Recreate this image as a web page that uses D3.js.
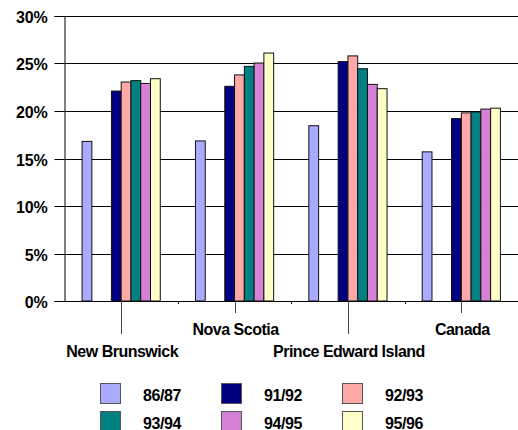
<!DOCTYPE html>
<html>
<head>
<meta charset="utf-8">
<script src="https://cdn.jsdelivr.net/npm/d3@7"></script>
<style>
  html, body { margin: 0; padding: 0; background: #fff; }
  svg { display: block; }
  text { font-family: "Liberation Sans", Arial, sans-serif; font-weight: bold; fill: #000; }
</style>
</head>
<body>
<svg id="chart" width="518" height="430"></svg>
<script>
// Provinces compared, in axis order
const categories = ["New Brunswick", "Nova Scotia", "Prince Edward Island", "Canada"];

// School years shown in the legend
const seriesNames = ["86/87", "91/92", "92/93", "93/94", "94/95", "95/96"];
const seriesColors = ["#AAAAFF", "#000080", "#FFA8A8", "#008080", "#D680D6", "#FFFFC8"];

// Percentages per year, one array per province
const newBrunswick = [16.8, 22.1, 23.05, 23.2, 22.9, 23.4];
const novaScotia   = [16.85, 22.6, 23.8, 24.7, 25.05, 26.1];
const princeEdward = [18.45, 25.2, 25.8, 24.45, 22.8, 22.35];
const canada       = [15.7, 19.2, 19.8, 19.9, 20.2, 20.3];
const valuesByCategory = [newBrunswick, novaScotia, princeEdward, canada];

// Y axis tick labels
const yTicks = [0, 5, 10, 15, 20, 25, 30];

const svg = d3.select("#chart");
const plot = { left: 64.5, right: 518, top: 16, bottom: 301 };

const x = d3.scaleBand()
  .domain(categories)
  .range([plot.left, plot.right])
  .paddingInner(0)
  .paddingOuter(0);

// Eight slots per group: the first year, two empty slots, then the later years
const slotDomain = [seriesNames[0], "gap-1", "gap-2", ...seriesNames.slice(1)];
const xs = d3.scaleBand()
  .domain(slotDomain)
  .range([0, x.bandwidth()])
  .paddingInner(0)
  .paddingOuter(1.8);

const y = d3.scaleLinear().domain([0, 30]).range([plot.bottom, plot.top]);
const snap = v => Math.round(v) + 0.5;

// Gridlines
svg.append("g")
  .selectAll("line")
  .data(yTicks.filter(d => d > 0))
  .join("line")
  .attr("x1", plot.left).attr("x2", plot.right)
  .attr("y1", d => snap(y(d))).attr("y2", d => snap(y(d)))
  .attr("stroke", "#000").attr("stroke-width", 1);

// Y axis
const yAxis = svg.append("g")
  .attr("transform", `translate(${plot.left},0)`)
  .call(d3.axisLeft(y).tickValues(yTicks).tickSize(10).tickFormat(d => d + "%"));
yAxis.select(".domain").attr("stroke", "#000");
yAxis.selectAll(".tick line").attr("stroke", "#000");
yAxis.selectAll(".tick").attr("transform", d => `translate(0,${snap(y(d))})`);
yAxis.selectAll(".tick text")
  .attr("x", -17)
  .attr("dy", "0.42em")
  .style("font-size", "16px")
  .style("letter-spacing", "-0.2px")
  .attr("fill", "#000");

// Bars
const groups = svg.append("g")
  .selectAll("g")
  .data(categories.map((c, i) => ({ category: c, values: valuesByCategory[i] })))
  .join("g")
  .attr("transform", d => `translate(${x(d.category)},0)`);

groups.selectAll("rect")
  .data(d => d.values.map((v, j) => ({ series: seriesNames[j], value: v, color: seriesColors[j] })))
  .join("rect")
  .attr("x", d => xs(d.series))
  .attr("y", d => y(d.value))
  .attr("width", xs.bandwidth())
  .attr("height", d => y(0) - y(d.value))
  .attr("fill", d => d.color)
  .attr("stroke", "#111")
  .attr("stroke-width", 1);

// X axis line and group boundary ticks
svg.append("line")
  .attr("x1", plot.left).attr("x2", plot.right)
  .attr("y1", plot.bottom + 0.5).attr("y2", plot.bottom + 0.5)
  .attr("stroke", "#000");

svg.append("g")
  .selectAll("line")
  .data(categories.slice(1))
  .join("line")
  .attr("x1", d => snap(x(d))).attr("x2", d => snap(x(d)))
  .attr("y1", plot.bottom).attr("y2", plot.bottom + 3)
  .attr("stroke", "#000");

// Category labels, staggered on two rows with leader lines
const labelRow = i => (i % 2 === 0 ? 1 : 0);
const leaderEnd = [313, 334];
const labelBaseline = [335, 357];

svg.append("g")
  .selectAll("line")
  .data(categories)
  .join("line")
  .attr("x1", d => snap(x(d) + x.bandwidth() / 2))
  .attr("x2", d => snap(x(d) + x.bandwidth() / 2))
  .attr("y1", plot.bottom)
  .attr("y2", (d, i) => leaderEnd[labelRow(i)])
  .attr("stroke", "#444");

svg.append("g")
  .selectAll("text")
  .data(categories)
  .join("text")
  .attr("x", d => x(d) + x.bandwidth() / 2 + 1)
  .attr("y", (d, i) => labelBaseline[labelRow(i)])
  .attr("text-anchor", "middle")
  .style("font-size", "16px")
  .style("letter-spacing", "-0.5px")
  .text(d => d);

// Legend: three columns, two rows
const legend = svg.append("g")
  .selectAll("g")
  .data(seriesNames.map((s, i) => ({ name: s, color: seriesColors[i], col: i % 3, row: Math.floor(i / 3) })))
  .join("g")
  .attr("transform", d => `translate(${100 + d.col * 121},${383 + d.row * 28})`);

legend.append("rect")
  .attr("x", 0.5).attr("y", 0.5)
  .attr("width", 20).attr("height", 20)
  .attr("fill", d => d.color)
  .attr("stroke", "#555");

legend.append("text")
  .attr("x", 43)
  .attr("y", 17.5)
  .style("font-size", "16px")
  .style("letter-spacing", "-0.4px")
  .text(d => d.name);
</script>
</body>
</html>
